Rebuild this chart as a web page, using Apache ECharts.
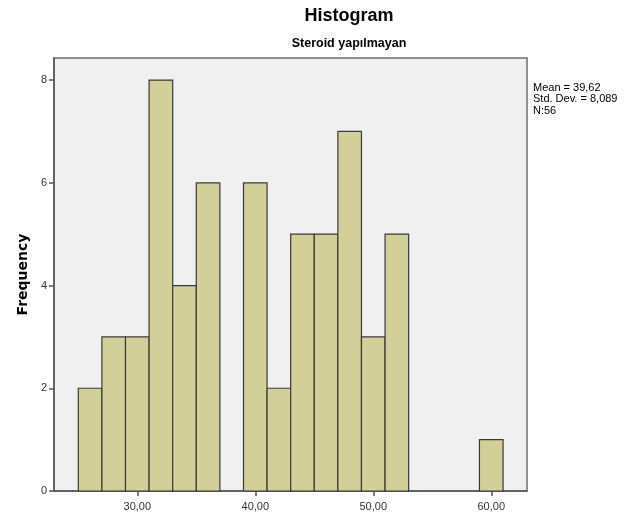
<!DOCTYPE html>
<html>
<head>
<meta charset="utf-8">
<script src="https://cdn.jsdelivr.net/npm/echarts@6/dist/echarts.min.js"></script>
<style>
html,body{margin:0;padding:0;background:#fff;}
#chart{width:644px;height:520px;}
</style>
</head>
<body>
<div id="chart"></div>
<script>
// Data
var binStart = [25, 27, 29, 31, 33, 35, 37, 39, 41, 43, 45, 47, 49, 51, 59];
var binEnd   = [27, 29, 31, 33, 35, 37, 39, 41, 43, 45, 47, 49, 51, 53, 61];
var counts   = [2, 3, 3, 8, 4, 6, 0, 6, 2, 5, 5, 7, 3, 5, 1];
var xTicks = [30, 40, 50, 60];
var yTicks = [0, 2, 4, 6, 8];
var statLines = ['Mean = 39,62', 'Std. Dev. = 8,089', 'N:56'];

var chart = echarts.init(document.getElementById('chart'), null, {renderer: 'canvas'});

var data = binStart.map(function (s, i) { return [s, binEnd[i], counts[i]]; });

var option = {
  animation: false,
  backgroundColor: '#ffffff',
  title: [
    {
      text: 'Histogram',
      left: 344, top: 2, textAlign: 'center',
      textStyle: {fontFamily: 'Liberation Sans', fontSize: 18, fontWeight: 'bold', color: '#000'}
    },
    {
      text: 'Steroid yapılmayan',
      left: 344, top: 32, textAlign: 'center',
      textStyle: {fontFamily: 'Liberation Sans', fontSize: 12.5, fontWeight: 'bold', color: '#000'}
    }
  ],
  grid: {
    left: 54, top: 58, right: 117, bottom: 29,
    show: true, backgroundColor: '#f0f0f0', borderColor: '#6e6e6e', borderWidth: 1.5,
    containLabel: false
  },
  xAxis: {
    type: 'value', min: 22.94, max: 63.03,
    splitLine: {show: false},
    axisLine: {show: true, onZero: false, lineStyle: {color: '#555', width: 1.5}},
    axisTick: {show: true, length: 5, customValues: xTicks, lineStyle: {color: '#555', width: 1.5}},
    axisLabel: {
      customValues: xTicks, margin: 10,
      fontFamily: 'Liberation Sans', fontSize: 11, color: '#333',
      formatter: function (v) { return v.toFixed(2).replace('.', ','); }
    }
  },
  yAxis: {
    type: 'value', min: 0, max: 8.43,
    name: 'Frequency', nameLocation: 'middle', nameGap: 24, nameRotate: 90,
    nameTextStyle: {fontFamily: 'DejaVu Sans', fontSize: 14, fontWeight: 'bold', color: '#000'},
    splitLine: {show: false},
    axisLine: {show: true, lineStyle: {color: '#555', width: 1.5}},
    axisTick: {show: true, length: 5, customValues: yTicks, lineStyle: {color: '#555', width: 1.5}},
    axisLabel: {customValues: yTicks, margin: 7, fontFamily: 'Liberation Sans', fontSize: 11, color: '#333'}
  },
  graphic: statLines.map(function (t, i) {
    return {
      type: 'text', left: 533, top: 82 + i * 11.5,
      style: {text: t, fontFamily: 'Liberation Sans', fontSize: 11, fill: '#000'}
    };
  }),
  series: [{
    type: 'custom',
    data: data,
    encode: {x: [0, 1], y: 2},
    renderItem: function (params, api) {
      var h = api.value(2);
      if (!h) return null;
      var p1 = api.coord([api.value(0), h]);
      var p2 = api.coord([api.value(1), 0]);
      return {
        type: 'rect',
        shape: {x: p1[0], y: p1[1], width: p2[0] - p1[0], height: p2[1] - p1[1]},
        style: {fill: '#d3cf98', stroke: '#3a3a3a', lineWidth: 1.2}
      };
    }
  }]
};
chart.setOption(option);
</script>
</body>
</html>
